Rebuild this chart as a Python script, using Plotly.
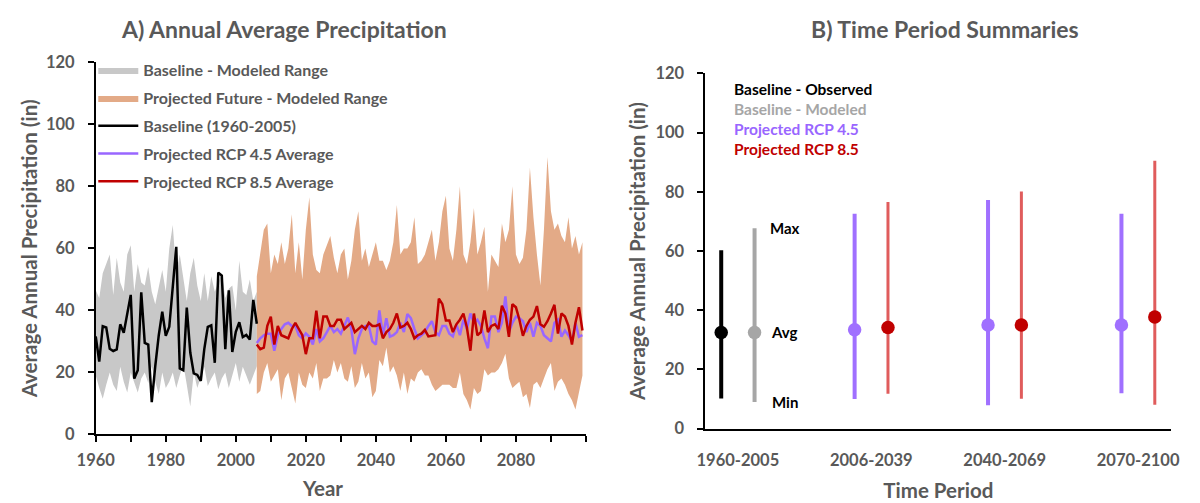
import plotly.graph_objects as go

# ---------------- data: panel A ----------------
base_years = list(range(1960, 2007))
obs_baseline = [31.6, 23.5, 34.9, 34.5, 27.6, 26.9, 27.4, 35.5, 32.8, 38.8,
                45.0, 18.0, 20.7, 45.8, 29.5, 29.0, 10.4, 22.0, 32.0, 39.6,
                31.8, 34.7, 48.0, 60.5, 21.3, 20.7, 40.9, 26.4, 19.7, 19.2,
                17.3, 27.5, 34.7, 35.2, 23.1, 52.2, 51.2, 27.5, 46.5, 26.6,
                33.1, 36.2, 31.4, 32.1, 30.6, 43.4, 35.7]
base_upper = [46.5, 44, 52, 55, 58, 45, 57, 49, 46, 58,
              61, 46, 55, 49, 48, 54, 46, 42, 48, 53,
              46, 60, 67.5, 52, 58, 50, 43, 52, 57, 48,
              43, 52, 43, 51, 46, 49, 52, 44, 47, 48,
              40, 56, 46, 45, 50, 43, 46]
base_lower = [19, 15, 11.5, 16, 20, 16, 14, 21.8, 17, 13.5,
              20, 17, 13.5, 18, 20, 16.6, 22, 17, 13, 20,
              15, 17, 20, 15, 19, 22.8, 16, 9, 20, 15,
              18, 21.8, 15.6, 18, 20, 14.6, 18, 20, 15, 19,
              23, 17, 21.8, 19, 16, 19, 22]

proj_years = list(range(2006, 2100))
proj_upper = [51, 58, 66, 68, 52, 58, 55, 62, 55, 60,
              71, 52, 62, 50, 66, 76.5, 58, 53, 52, 58,
              61, 64, 57, 52, 58, 60, 50, 56, 66, 72,
              56, 60, 54, 58, 62, 56, 56, 53, 56, 62,
              74, 58, 60, 60, 62, 70, 55,
              56, 58, 62, 66, 56, 62, 72, 77, 60, 56,
              66, 80, 58, 55, 62, 73, 58, 62, 67, 46,
              58, 56, 54, 68, 62, 66, 80, 58, 55, 57,
              66, 86, 70, 58, 48, 66, 89.5, 72, 66, 68,
              64, 62, 70, 60, 64, 58, 62]
proj_lower = [13, 14, 20, 23, 17, 19, 21, 11, 18, 20,
              15, 10, 20, 16, 15, 20, 18, 23, 14, 18,
              18, 19, 24, 20, 23, 18, 17, 22, 15, 17,
              23, 18, 20, 12, 14, 24, 22, 28, 20, 22,
              19, 14, 20, 13, 18, 17, 20,
              21, 19, 19, 16, 14, 15, 16, 16, 16, 15,
              15, 20, 13, 11, 8, 15, 13, 14, 21, 19,
              20, 20, 21, 23, 26, 18, 15, 16, 17, 12,
              13, 8.5, 16, 17, 15, 18, 21, 23, 14, 17,
              18, 16, 13, 11, 8, 14, 19]
rcp45_avg = [29.5, 31, 32, 32.5, 32.5, 27, 32, 34, 35.5, 36,
             35, 35, 32, 31, 32.6, 31.5, 29, 34, 30, 31,
             33, 35, 33, 34, 32.5, 35, 37.7, 34, 25.9, 31,
             34, 35, 35, 30, 29, 40, 32, 37.5, 31.5, 32,
             33, 36, 33, 38.8, 37.5, 34, 31,
             32, 33, 35, 36.5, 33, 32, 35, 35, 32.5, 31.6,
             35.5, 32, 37, 34, 39, 36, 37, 35, 31, 27.8,
             38, 38, 33, 36, 44.5, 33, 36, 38, 37.5, 36.5,
             33, 36, 31.5, 36, 35, 32, 31, 30, 36, 37,
             31.5, 33.5, 32, 30, 36, 31.5, 32]
rcp85_avg = [29, 27.5, 28, 35, 38, 29, 35, 32, 31.5, 31,
             34, 36, 34, 32, 25.9, 31, 31, 39.9, 31, 38,
             38, 35, 35, 37, 37, 34, 35, 36, 33, 34,
             35, 34, 36, 35, 35, 35.5, 31, 33, 34, 36,
             39, 34.5, 35, 36, 34, 31, 32,
             32.5, 33.7, 31.6, 31.8, 32, 43.8, 42, 36.7, 36.7, 33,
             35.5, 37, 39, 34.5, 27, 39, 32, 33, 40, 33,
             35, 35.5, 34, 41.5, 39, 31.5, 42, 41, 37, 31.8,
             35, 37, 38, 41.4, 35.5, 34.7, 36.5, 39, 41.8, 32.5,
             39, 38, 35, 29, 36, 41, 33.5]

year_ticks = list(range(1960, 2101, 10))
year_labels = ["1960", "", "1980", "", "2000", "", "2020", "", "2040", "",
               "2060", "", "2080", "", ""]

# ---------------- data: panel B ----------------
periods = ["1960-2005", "2006-2039", "2040-2069", "2070-2100"]
obs_idx = [0]
obs_avg = [32.5]
obs_max = [60.3]
obs_min = [10.2]
mod_idx = [0]
mod_avg = [32.5]
mod_max = [67.7]
mod_min = [9.0]
p45_idx = [1, 2, 3]
p45_avg = [33.4, 35.0, 35.0]
p45_max = [72.6, 77.2, 72.6]
p45_min = [10.0, 7.9, 12.0]
p85_idx = [1, 2, 3]
p85_avg = [34.2, 35.0, 37.7]
p85_max = [76.6, 80.1, 90.5]
p85_min = [11.8, 10.1, 8.1]

FONT = "Lato"
GREY_TXT = "#595959"
W, H = 1200, 503

fig = go.Figure()

# ---- Panel A traces ----
fig.add_trace(go.Scatter(
    x=base_years + base_years[::-1], y=base_upper + base_lower[::-1],
    fill="toself", fillcolor="#C8C8C8", line=dict(width=0), mode="lines",
    name="Baseline - Modeled Range", legendgroup="g1", hoverinfo="skip"))
fig.add_trace(go.Scatter(
    x=proj_years + proj_years[::-1], y=proj_upper + proj_lower[::-1],
    fill="toself", fillcolor="#E3AA87", line=dict(width=0), mode="lines",
    name="Projected Future - Modeled Range", legendgroup="g2", hoverinfo="skip"))
fig.add_trace(go.Scatter(
    x=base_years, y=obs_baseline, mode="lines",
    line=dict(color="#000000", width=2.5),
    name="Baseline (1960-2005)", legendgroup="g3"))
fig.add_trace(go.Scatter(
    x=proj_years, y=rcp45_avg, mode="lines",
    line=dict(color="#9966FF", width=2.5),
    name="Projected RCP 4.5 Average", legendgroup="g4"))
fig.add_trace(go.Scatter(
    x=proj_years, y=rcp85_avg, mode="lines",
    line=dict(color="#C00000", width=2.5),
    name="Projected RCP 8.5 Average", legendgroup="g5"))

# ---- Panel B traces ----
def summary(idx, avg, mx, mn, offset, line_col, dot_col, thick):
    return go.Scatter(
        x=[i + offset for i in idx], y=avg, mode="markers",
        xaxis="x2", yaxis="y2", showlegend=False,
        marker=dict(size=13.5, color=dot_col),
        error_y=dict(type="data", symmetric=False,
                     array=[a - b for a, b in zip(mx, avg)],
                     arrayminus=[a - b for a, b in zip(avg, mn)],
                     width=0, thickness=thick, color=line_col))

fig.add_trace(summary(obs_idx, obs_avg, obs_max, obs_min, -0.125, "#000000", "#000000", 4))
fig.add_trace(summary(mod_idx, mod_avg, mod_max, mod_min, 0.125, "#A6A6A6", "#A6A6A6", 4))
fig.add_trace(summary(p45_idx, p45_avg, p45_max, p45_min, -0.125, "#A070FF", "#A070FF", 4))
fig.add_trace(summary(p85_idx, p85_avg, p85_max, p85_min, 0.125, "#E05C5C", "#C00000", 3))

tickfont = dict(family=FONT, size=16.5, color=GREY_TXT, weight="bold")
titlefont = dict(family=FONT, size=20.5, color=GREY_TXT, weight="bold")
axis_common = dict(showline=True, linecolor="#000000", linewidth=1.5,
                   showgrid=False, zeroline=False, tickfont=tickfont,
                   ticklen=6, tickcolor="#000000", tickwidth=1.5)

fig.update_layout(
    width=W, height=H, margin=dict(l=0, r=0, t=0, b=0),
    paper_bgcolor="white", plot_bgcolor="white",
    font=dict(family=FONT, color=GREY_TXT),
    xaxis=dict(domain=[78.5 / W, 580 / W], range=[1960, 2100], anchor="y",
               tickmode="array", tickvals=year_ticks, ticktext=year_labels,
               ticks="outside", ticklabelstandoff=4,
               **axis_common),
    yaxis=dict(domain=[61 / H, 448.5 / H], range=[0, 120], anchor="x",
               dtick=20, ticks="outside", ticklabelstandoff=10,
               title=dict(text="Average Annual Precipitation (in)", font=titlefont, standoff=3),
               **axis_common),
    xaxis2=dict(domain=[702 / W, 1179 / W], range=[-0.245, 3.25], anchor="y2",
                tickmode="array", tickvals=list(range(len(periods))), ticktext=periods,
                ticks="", ticklabelstandoff=16,
                title=dict(text="Time Period", font=titlefont, standoff=14),
                **axis_common),
    yaxis2=dict(domain=[67 / H, 437 / H], range=[0, 120], anchor="x2",
                dtick=20, ticks="outside", ticklabelstandoff=10,
                title=dict(text="Average Annual Precipitation (in)", font=titlefont, standoff=4),
                **axis_common),
    legend=dict(x=76 / W, y=1 - 45 / H, xanchor="left", yanchor="top",
                bgcolor="rgba(0,0,0,0)", itemwidth=40, tracegroupgap=4,
                traceorder="grouped",
                font=dict(family=FONT, size=16, color=GREY_TXT, weight="bold")),
    showlegend=True,
)

ann = []
ann.append(dict(text="A) Annual Average Precipitation", x=271 / W, y=1 - 20 / H,
                xref="paper", yref="paper", showarrow=False, xanchor="center", yanchor="middle",
                font=dict(family=FONT, size=23, color=GREY_TXT, weight="bold")))
ann.append(dict(text="B) Time Period Summaries", x=947 / W, y=1 - 20 / H,
                xref="paper", yref="paper", showarrow=False, xanchor="center", yanchor="middle",
                font=dict(family=FONT, size=23, color=GREY_TXT, weight="bold")))
ann.append(dict(text="Year", x=310 / W, y=1 - 498 / H,
                xref="paper", yref="paper", showarrow=False, xanchor="center", yanchor="middle",
                font=titlefont))
legend_b = [("Baseline - Observed", "#000000"), ("Baseline - Modeled", "#A6A6A6"),
            ("Projected RCP 4.5", "#9966FF"), ("Projected RCP 8.5", "#C00000")]
for i, (t, c) in enumerate(legend_b):
    ann.append(dict(text=t, x=729 / W, y=1 - (82 + 21 * i) / H, xref="paper", yref="paper",
                    showarrow=False, xanchor="left", yanchor="middle",
                    font=dict(family=FONT, size=15.5, color=c, weight="bold")))
for t, v in [("Max", mod_max[0]), ("Avg", mod_avg[0]), ("Min", mod_min[0])]:
    ann.append(dict(text=t, x=mod_idx[0] + 0.35, y=v, xref="x2", yref="y2",
                    showarrow=False, xanchor="center", yanchor="middle",
                    font=dict(family=FONT, size=15, color="#000000", weight="bold")))
fig.update_layout(annotations=ann)

fig.write_html("out.html")
